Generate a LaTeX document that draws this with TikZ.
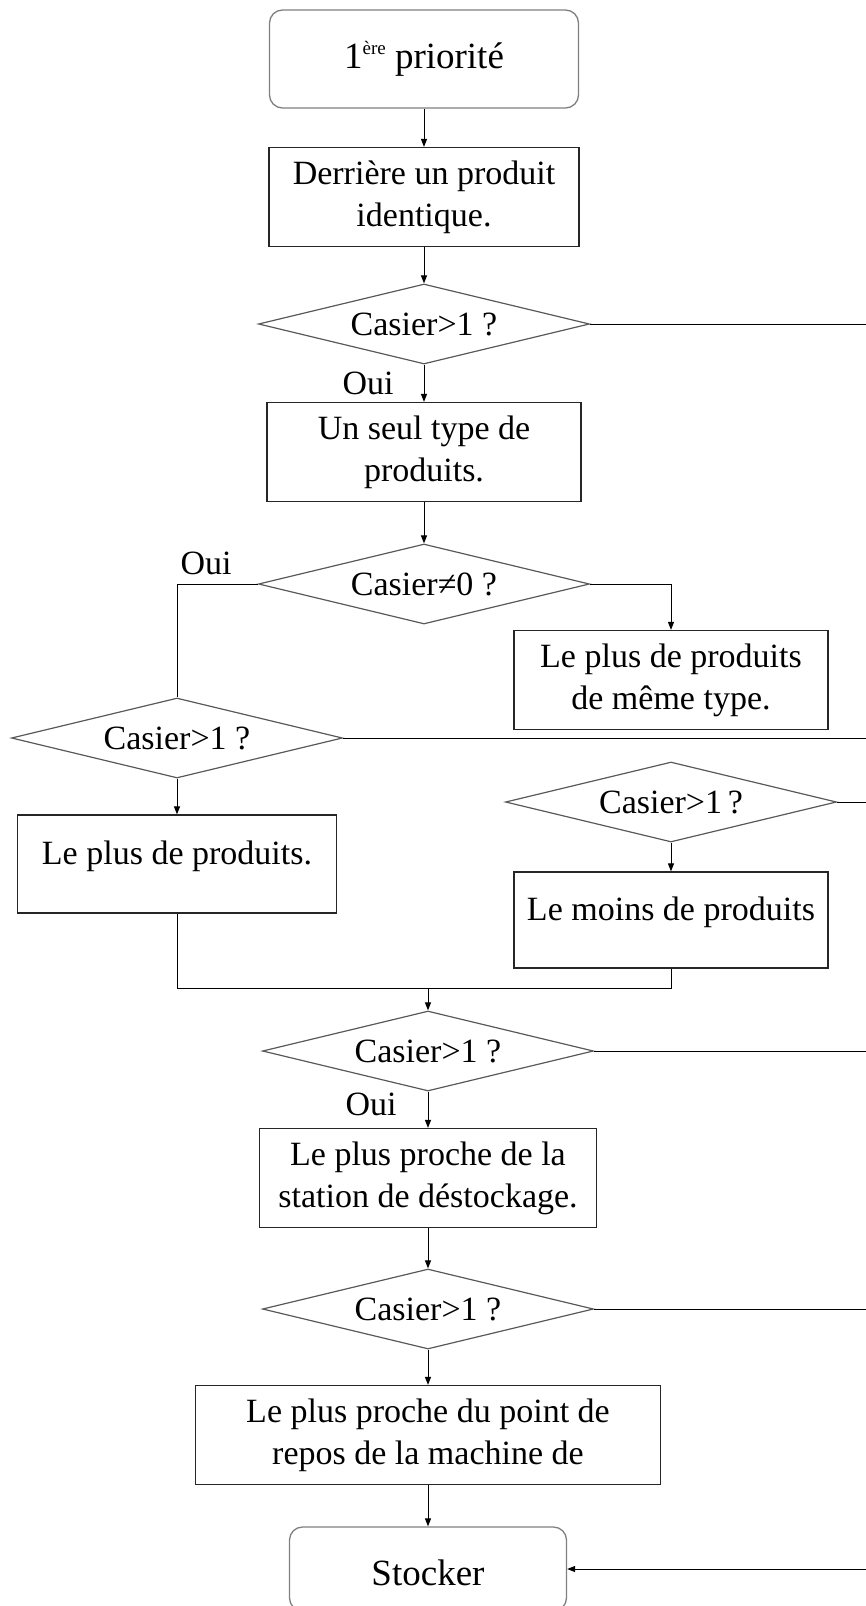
\documentclass[tikz,border=0pt]{standalone}
\usepackage{fontspec}
\setmainfont{Liberation Serif}
\usetikzlibrary{arrows.meta,positioning,shapes.geometric}

\begin{document}
\begin{tikzpicture}[x=1pt, y=-1pt,
    box/.style={draw=black!85, line width=1.2pt, minimum width=310pt, minimum height=99pt,
        align=center, inner sep=2pt, font=\fontsize{34}{42}\selectfont},
    term/.style={draw=black!50, line width=1.3pt, rounded corners=13pt, minimum height=98pt,
        inner sep=2pt, font=\fontsize{37}{44}\selectfont},
    test/.style={diamond, draw=black!65, line width=1.2pt, aspect=4.14, minimum width=331pt,
        minimum height=80pt, inner sep=0pt, font=\fontsize{34}{42}\selectfont},
    txt/.style={inner sep=0pt, font=\fontsize{34}{42}\selectfont},
    link/.style={draw=black, line width=1pt},
    arr/.style={link, -{Triangle[length=8pt,width=6pt]}}]
    \useasboundingbox (0,0) rectangle (866,1606);

    % Main column
    \node[term, minimum width=309pt] (start) at (424,59)
        {1\raisebox{14pt}{\fontsize{19}{19}\selectfont ère} priorité};
    \node[box] (b1) at (424,197) {Derrière un produit\\identique.};
    \node[test] (d1) at (424,324) {Casier>1 ?};
    \node[txt] (oui1) at (368,383) {Oui};
    \node[box, minimum width=314pt] (b2) at (424,452) {Un seul type de\\produits.};
    \node[test] (d2) at (424,584) {Casier≠0 ?};
    \node[txt] (oui2) at (206,563) {Oui};

    % Branches
    \node[box, minimum width=314pt] (b3) at (671,680) {Le plus de produits\\de même type.};
    \node[test] (d3) at (177,738) {Casier>1 ?};
    \node[test] (d4) at (671,802) {Casier>1\,?};
    \node[box, minimum width=319pt, minimum height=98pt] (b4) at (177,864)
        {\raisebox{8pt}[\height][\depth]{Le plus de produits.}};
    \node[box, minimum width=314pt, minimum height=96pt] (b5) at (671,920)
        {\raisebox{8pt}[\height][\depth]{Le moins de produits}};
    \coordinate (merge) at (428,988);

    % Lower column
    \node[test] (d5) at (428,1051) {Casier>1 ?};
    \node[txt] (oui3) at (371,1104) {Oui};
    \node[box, minimum width=337pt] (b6) at (428,1178) {Le plus proche de la\\station de déstockage.};
    \node[test] (d6) at (428,1309) {Casier>1 ?};
    \node[box, minimum width=465pt] (b7) at (428,1435) {Le plus proche du point de\\repos de la machine de};
    \node[term, minimum width=277pt, minimum height=84pt] (stock) at (428,1569)
        {\raisebox{-4pt}[\height][\depth]{Stocker}};
    \coordinate (edge) at (870,0);

    % Connectors
    \draw[arr] (start) -- (b1);
    \draw[arr] (b1) -- (d1);
    \draw[arr] (d1) -- (b2);
    \draw[arr] (b2) -- (d2);
    \draw[link] (d2.west) -| (d3.north);
    \draw[arr] (d2.east) -| (b3.north);
    \draw[arr] (d3) -- (b4);
    \draw[arr] (d4) -- (b5);
    \draw[link] (b4.south) |- (merge) -| (b5.south);
    \draw[arr] (merge) -- (d5);
    \draw[arr] (d5) -- (b6);
    \draw[arr] (b6) -- (d6);
    \draw[arr] (d6) -- (b7);
    \draw[arr] (b7) -- (stock);

    % Exits to the right
    \foreach \n in {d1,d3,d4,d5,d6}
        \draw[link] (\n.east) -- (\n.east -| edge);
    \draw[arr] (stock.east -| edge) -- (stock.east);
\end{tikzpicture}
\end{document}
